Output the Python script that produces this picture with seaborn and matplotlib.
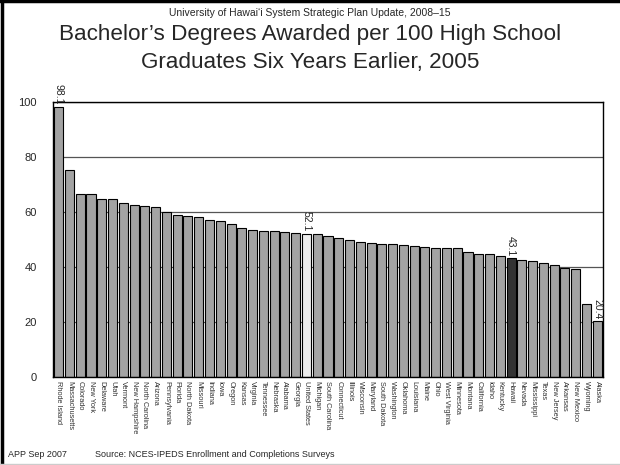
import matplotlib
matplotlib.use("Agg")
import matplotlib.pyplot as plt
import seaborn as sns
import pandas as pd
from matplotlib.lines import Line2D

# === DATA ===
STATES = [
    "Rhode Island", "Massachusetts", "Colorado", "New York", "Delaware", "Utah",
    "Vermont", "New Hampshire", "North Carolina", "Arizona", "Pennsylvania",
    "Florida", "North Dakota", "Missouri", "Indiana", "Iowa", "Oregon", "Kansas",
    "Virginia", "Tennessee", "Nebraska", "Alabama", "Georgia", "United States",
    "Michigan", "South Carolina", "Connecticut", "Illinois", "Wisconsin",
    "Maryland", "South Dakota", "Washington", "Oklahoma", "Louisiana", "Maine",
    "Ohio", "West Virginia", "Minnesota", "Montana", "California", "Idaho",
    "Kentucky", "Hawaii", "Nevada", "Mississippi", "Texas", "New Jersey",
    "Arkansas", "New Mexico", "Wyoming", "Alaska",
]
VALUES = [
    98.1, 75.2, 66.5, 66.5, 64.6, 64.6, 63.4, 62.4, 62.0, 61.7, 60.0,
    58.8, 58.4, 58.2, 57.0, 56.7, 55.5, 54.3, 53.3, 53.1, 53.1, 52.6, 52.2, 52.1,
    51.9, 51.3, 50.4, 49.9, 49.1, 48.6, 48.4, 48.4, 48.1, 47.5, 47.3,
    46.8, 46.8, 46.8, 45.6, 44.7, 44.7, 44.0, 43.1, 42.4, 42.1, 41.6, 40.7,
    39.6, 39.2, 26.5, 20.4,
]
LABELLED = ["Rhode Island", "United States", "Hawaii", "Alaska"]

# colours: highlight US and Hawaii
BAR_COLOR = "#A3A3A3"
US_COLOR = "#EDEDED"
HI_COLOR = "#333333"


def make_chart():
    df = pd.DataFrame({"state": STATES, "value": VALUES})
    palette = {s: BAR_COLOR for s in STATES}
    palette["United States"] = US_COLOR
    palette["Hawaii"] = HI_COLOR

    sns.set_style("white")
    plt.rcParams["font.family"] = ["Liberation Sans", "DejaVu Sans"]

    fig = plt.figure(figsize=(6.2, 4.65), dpi=100)
    ax = fig.add_axes([0.086, 0.189, 0.886, 0.592])

    sns.barplot(data=df, x="state", y="value", hue="state", palette=palette,
                legend=False, width=0.84, edgecolor="black", linewidth=0.8,
                ax=ax, zorder=2)

    # value labels on a few bars
    for i, (s, v) in enumerate(zip(STATES, VALUES)):
        if s in LABELLED:
            ax.text(i, v + 0.8, f"{v:.1f}", rotation=270, ha="center",
                    va="bottom", fontsize=7.5)

    ax.set_ylim(0, 100)
    ax.set_xlim(-0.5, len(STATES) - 0.5)
    ax.set_yticks([0, 20, 40, 60, 80, 100])
    ax.yaxis.grid(True, color="#555555", linewidth=0.9, zorder=0)
    ax.set_axisbelow(True)
    ax.tick_params(axis="y", length=0, labelsize=8, pad=12)
    ax.tick_params(axis="x", length=0, pad=3)
    ax.set_xticks(range(len(STATES)))
    ax.set_xticklabels(STATES, rotation=270, fontsize=5.3, ha="center",
                       va="top", color="#333333")
    ax.set_xlabel("")
    ax.set_ylabel("")
    for sp in ax.spines.values():
        sp.set_color("black")
        sp.set_linewidth(1.0)
        sp.set_visible(True)

    # titles
    fig.text(0.5, 0.972, "University of Hawai\u2018i System Strategic Plan Update, 2008\u201315",
             ha="center", va="center", fontsize=7.5)
    fig.text(0.5, 0.895, "Bachelor\u2019s Degrees Awarded per 100 High School\n"
             "Graduates Six Years Earlier, 2005",
             ha="center", va="center", fontsize=16.2, linespacing=1.45)

    # footer
    fig.text(0.013, 0.022, "APP Sep 2007", ha="left", va="center", fontsize=6.5)
    fig.text(0.153, 0.022, "Source: NCES-IPEDS Enrollment and Completions Surveys",
             ha="left", va="center", fontsize=6.5)

    # slide frame
    fig.add_artist(Line2D([0, 1], [0.997, 0.997], color="black", linewidth=2.5,
                          transform=fig.transFigure))
    fig.add_artist(Line2D([0.003, 0.003], [0, 1], color="black", linewidth=2.5,
                          transform=fig.transFigure))
    fig.add_artist(Line2D([0, 1], [0.002, 0.002], color="#CCCCCC", linewidth=1,
                          transform=fig.transFigure))

    fig.savefig("out.png", dpi=100)


if __name__ == "__main__":
    make_chart()
